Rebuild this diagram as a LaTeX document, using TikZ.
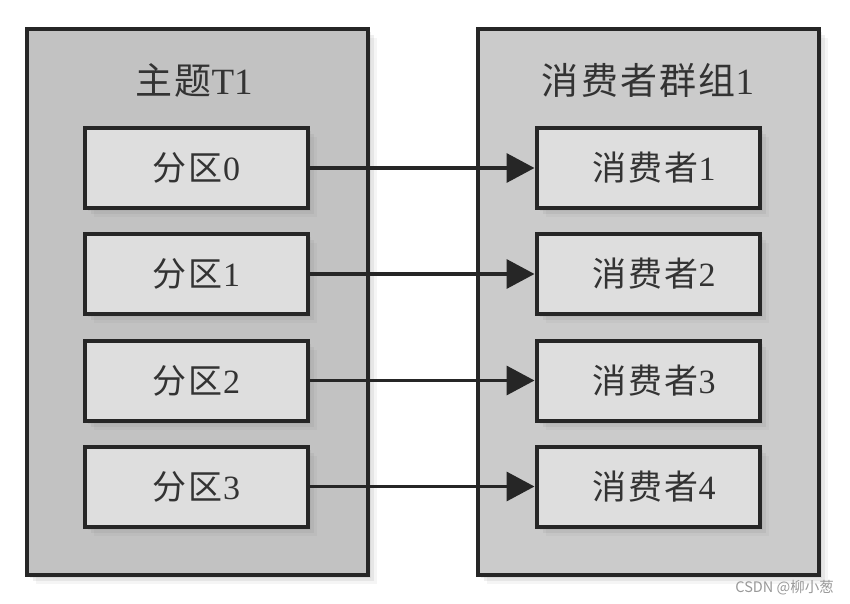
\documentclass[tikz,border=0pt]{standalone}
\usepackage{fontspec}
\setmainfont{Liberation Serif}
\newfontfamily\cjk{Noto Sans CJK SC}[LetterSpace=6]
\newfontfamily\wmfont{Noto Sans CJK SC}
\usetikzlibrary{arrows.meta,shadows}
\definecolor{outerfill}{HTML}{C2C2C2}
\definecolor{outerfillb}{HTML}{CBCBCB}
\definecolor{innerfill}{HTML}{DEDEDE}
\definecolor{edge}{HTML}{262626}
\definecolor{txt}{HTML}{333333}
\tikzset{
  softshadow/.style={
    drop shadow={opacity=0.12, shadow xshift=3pt, shadow yshift=-3pt},
    drop shadow={opacity=0.12, shadow xshift=6pt, shadow yshift=-6pt},
    drop shadow={opacity=0.08, shadow xshift=9pt, shadow yshift=-9pt}},
  outerbox/.style={draw=edge, line width=4pt, fill=outerfill, minimum width=341pt, minimum height=546pt, inner sep=0pt, softshadow},
  innerbox/.style={draw=edge, line width=4pt, fill=innerfill, minimum width=223pt, minimum height=80pt, inner sep=0pt, text=txt, font=\fontsize{34}{36}\selectfont, softshadow},
  titletext/.style={text=txt, font=\fontsize{37}{40}\selectfont, inner sep=0pt},
  link/.style={draw=edge, line width=3.5pt, -{Triangle[length=28pt,width=29pt]}}
}
\begin{document}
\begin{tikzpicture}[x=1pt,y=-1pt]
\useasboundingbox[fill=white] (0,0) rectangle (850,604);
\node[outerbox] (topic) at (197.5,302) {};
\node[outerbox, fill=outerfillb] (group) at (648.5,302) {};
\node[titletext] (topictitle) at (194,80) {{\cjk 主题}T1};
\node[titletext] (grouptitle) at (648,80) {{\cjk 消费者群组}1};
\foreach \i/\y in {0/168,1/274,2/380.5,3/486.5}{
  \node[innerbox] (p\i) at (196.5,\y) {{\cjk 分区}\i};
}
\foreach \i/\n/\y in {0/1/168,1/2/274,2/3/380.5,3/4/486.5}{
  \node[innerbox, text width=200pt, align=center] (c\i) at (648,\y) {\hspace*{12pt}{\cjk 消费者}\n};
}
\foreach \i in {0,1,2,3}{
  \draw[link] (p\i.east) -- (c\i.west);
}
\node[text=black!40, font=\wmfont\fontsize{14.5}{16}\selectfont, inner sep=0pt, anchor=east] (wm) at (834,588) {CSDN @柳小葱};
\end{tikzpicture}
\end{document}
